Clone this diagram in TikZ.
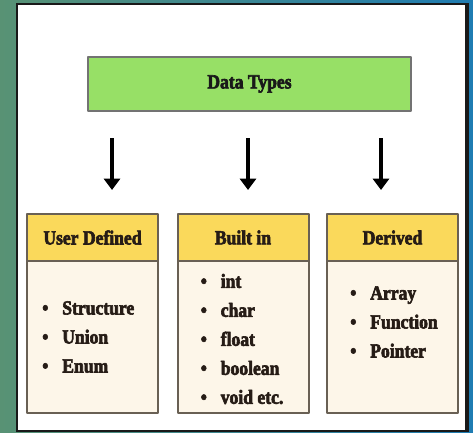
\documentclass[tikz,border=0pt]{standalone}
\usepackage{fontspec}
\setmainfont{Liberation Serif}[FakeStretch=0.88,BoldFeatures={FakeBold=3}]
\usetikzlibrary{arrows.meta,positioning}
\definecolor{dtgreen}{RGB}{151,224,102}
\definecolor{hdryellow}{RGB}{250,217,91}
\definecolor{bodycream}{RGB}{253,246,233}
\definecolor{edgegray}{RGB}{105,96,84}
\definecolor{inkbrown}{RGB}{38,28,22}
\definecolor{bgleft}{RGB}{88,146,116}
\definecolor{bgright}{RGB}{31,124,178}
\newcommand\itm[1]{\makebox[15pt][l]{\textbullet}#1}
\begin{document}
\begin{tikzpicture}[x=0.75pt,y=-0.75pt,font=\fontsize{15}{21.75}\selectfont\bfseries, line join=round,
	titlebox/.style={draw=black!55,line width=2.2pt,fill=dtgreen,minimum width=242.25pt,minimum height=40.5pt,inner sep=0,outer sep=0,text=black!90},
	hdr/.style={draw=edgegray,line width=1.5pt,fill=hdryellow,minimum width=98.25pt,minimum height=35.25pt,inner sep=0,outer sep=0,text=inkbrown},
	bodybox/.style={draw=edgegray,line width=1.5pt,fill=bodycream,minimum width=98.25pt,minimum height=114pt,inner sep=0,outer sep=0},
	lst/.style={align=left,inner sep=0,text=inkbrown,anchor=west},
	arr/.style={line width=3pt,-{Triangle[width=12pt,length=8.5pt]}}]
	\useasboundingbox (0,0) rectangle (473,432);
	\shade[left color=bgleft,right color=bgright] (0,0) rectangle (473,432);
	\fill[black!90] (16,3) rectangle (469,432);
	\fill[white] (18,5) rectangle (465,430);
	\node[titlebox] (types) at (249.5,84) {Data Types};
	\coordinate (a1) at (112,138); \coordinate (b1) at (112,190);
	\coordinate (a2) at (248,138); \coordinate (b2) at (248,190);
	\coordinate (a3) at (381,138); \coordinate (b3) at (381,190);
	\draw[arr] (a1)--(b1);
	\draw[arr] (a2)--(b2);
	\draw[arr] (a3)--(b3);
	\node[hdr] (ud) at (92.5,237.5) {User Defined};
	\node[hdr] (bi) at (243,237.5) {Built in};
	\node[hdr] (dv) at (392.5,237.5) {Derived};
	\node[bodybox,below=0pt of ud] (udbody) {};
	\node[bodybox,below=0pt of bi] (bibody) {};
	\node[bodybox,below=0pt of dv] (dvbody) {};
	\node[lst] (udlist) at ([shift={(15,0)}]udbody.west) {\itm{Structure}\\ \itm{Union}\\ \itm{Enum}};
	\node[lst] (bilist) at ([shift={(23,2)}]bibody.west) {\itm{int}\\ \itm{char}\\ \itm{float}\\ \itm{boolean}\\ \itm{void etc.}};
	\node[lst] (dvlist) at ([shift={(23,-15)}]dvbody.west) {\itm{Array}\\ \itm{Function}\\ \itm{Pointer}};
\end{tikzpicture}
\end{document}
